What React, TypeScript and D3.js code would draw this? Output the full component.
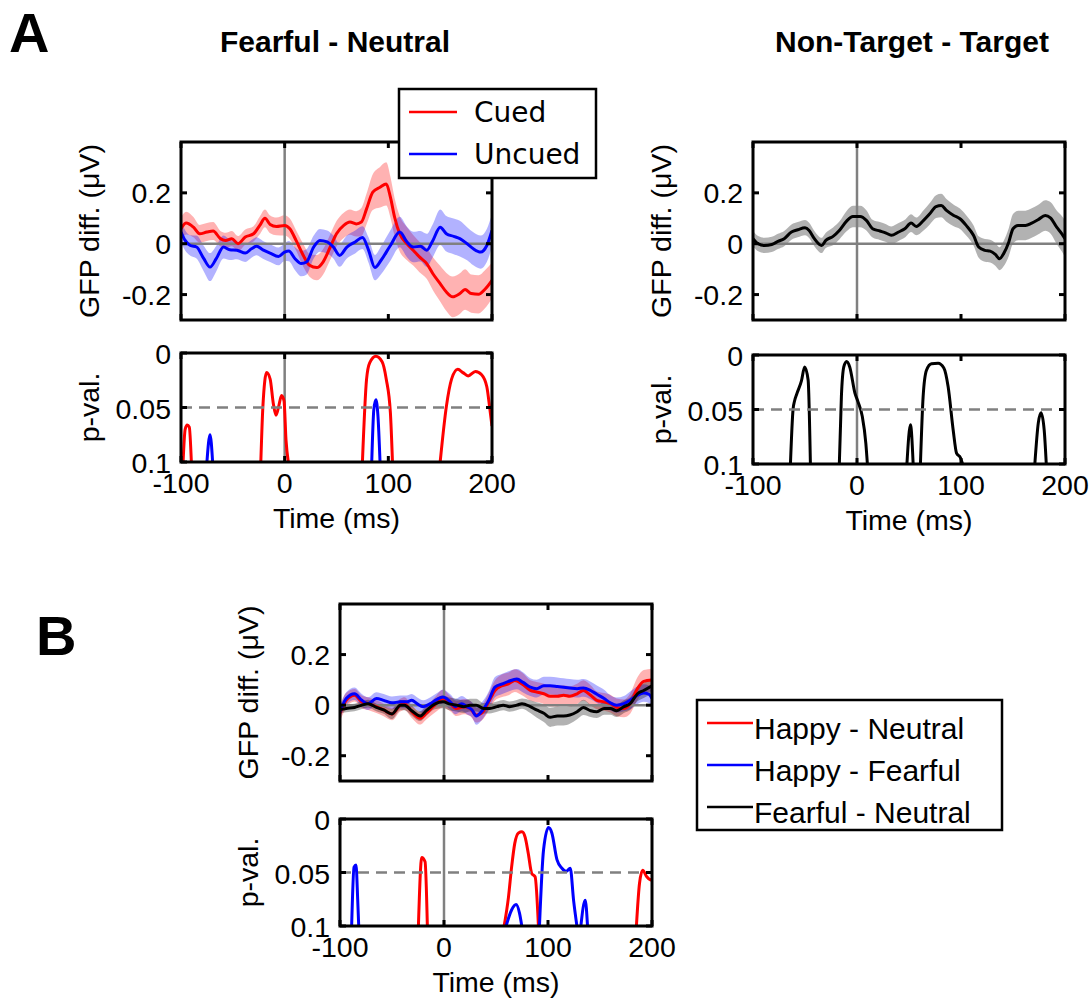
import React from 'react';
import * as d3 from 'd3';

// ---------- data ----------
const timeTicks = [-100, 0, 100, 200];
const timeTickLabels = ['-100', '0', '100', '200'];
const gfpTicks = [-0.2, 0, 0.2];
const gfpTickLabels = ['-0.2', '0', '0.2'];
const pTicks = [0, 0.05, 0.1];
const pTickLabels = ['0', '0.05', '0.1'];

// [time, mean, half-width]
const cuedGfp: number[][] = [
  [-100, 0.059, 0.045], [-95, 0.081, 0.045], [-88, 0.065, 0.04], [-82, 0.039, 0.035], [-75, 0.046, 0.035],
  [-69, 0.05, 0.035], [-62, 0.02, 0.03], [-57, 0.013, 0.03], [-51, 0.02, 0.03], [-45, 0.0, 0.03],
  [-38, 0.026, 0.03], [-30, 0.039, 0.03], [-24, 0.072, 0.035], [-19, 0.1, 0.035], [-14, 0.076, 0.035],
  [-8, 0.068, 0.035], [0, 0.072, 0.04], [5, 0.059, 0.04], [11, 0.013, 0.04], [18, -0.046, 0.045],
  [24, -0.085, 0.045], [31, -0.094, 0.05], [37, -0.072, 0.05], [44, -0.013, 0.05], [50, 0.039, 0.05],
  [57, 0.072, 0.05], [63, 0.085, 0.05], [69, 0.078, 0.05], [74, 0.085, 0.055], [79, 0.137, 0.06],
  [85, 0.203, 0.07], [92, 0.222, 0.08], [98, 0.235, 0.085], [102, 0.183, 0.08], [106, 0.105, 0.075],
  [111, 0.039, 0.07], [118, 0.0, 0.065], [124, -0.026, 0.06], [130, -0.052, 0.06], [137, -0.078, 0.06],
  [143, -0.118, 0.065], [150, -0.157, 0.07], [156, -0.19, 0.075], [162, -0.209, 0.08], [169, -0.196, 0.08],
  [174, -0.18, 0.08], [180, -0.196, 0.075], [187, -0.199, 0.075], [193, -0.18, 0.075], [200, -0.144, 0.07],
];
const uncuedGfp: number[][] = [
  [-100, 0.046, 0.04], [-96, 0.013, 0.04], [-91, -0.007, 0.04], [-85, -0.013, 0.045], [-78, -0.059, 0.05],
  [-72, -0.092, 0.055], [-66, -0.059, 0.05], [-59, -0.013, 0.045], [-53, -0.024, 0.04], [-46, -0.026, 0.035],
  [-38, -0.037, 0.035], [-32, -0.02, 0.035], [-27, -0.01, 0.035], [-21, -0.024, 0.035], [-14, -0.037, 0.035],
  [-6, -0.05, 0.035], [0, -0.033, 0.035], [4, -0.029, 0.04], [10, -0.059, 0.045], [16, -0.078, 0.05],
  [21, -0.072, 0.05], [28, -0.013, 0.045], [34, 0.013, 0.045], [41, 0.007, 0.045], [47, -0.013, 0.045],
  [53, -0.046, 0.045], [60, -0.013, 0.045], [68, 0.007, 0.045], [75, 0.024, 0.045], [81, -0.026, 0.05],
  [87, -0.094, 0.05], [93, -0.065, 0.055], [102, -0.007, 0.06], [111, 0.046, 0.06], [118, 0.007, 0.06],
  [124, -0.013, 0.06], [131, -0.01, 0.06], [137, -0.026, 0.065], [143, 0.013, 0.065], [150, 0.065, 0.07],
  [156, 0.039, 0.07], [163, 0.029, 0.07], [169, 0.02, 0.07], [176, 0.0, 0.065], [182, -0.02, 0.065],
  [189, -0.033, 0.065], [195, -0.007, 0.065], [200, 0.052, 0.065],
];
const nonTargetGfp: number[][] = [
  [-100, 0.02, 0.03], [-95, 0.0, 0.03], [-89, -0.007, 0.03], [-82, -0.003, 0.03], [-76, 0.009, 0.03],
  [-70, 0.02, 0.03], [-63, 0.046, 0.03], [-57, 0.055, 0.03], [-50, 0.063, 0.03], [-46, 0.052, 0.03],
  [-41, 0.02, 0.03], [-34, -0.007, 0.03], [-30, 0.013, 0.03], [-23, 0.029, 0.035], [-17, 0.052, 0.035],
  [-10, 0.089, 0.04], [-4, 0.107, 0.042], [3, 0.107, 0.042], [9, 0.092, 0.04], [15, 0.059, 0.035],
  [22, 0.05, 0.035], [28, 0.042, 0.035], [33, 0.033, 0.035], [40, 0.046, 0.035], [46, 0.059, 0.035],
  [52, 0.081, 0.035], [57, 0.068, 0.035], [64, 0.092, 0.04], [70, 0.118, 0.042], [76, 0.146, 0.045],
  [81, 0.15, 0.046], [86, 0.131, 0.045], [93, 0.111, 0.042], [99, 0.098, 0.04], [105, 0.072, 0.04],
  [112, 0.033, 0.04], [117, -0.013, 0.042], [123, -0.026, 0.045], [128, -0.029, 0.045], [133, -0.042, 0.045],
  [137, -0.059, 0.045], [141, -0.039, 0.05], [146, 0.007, 0.055], [150, 0.059, 0.058], [155, 0.072, 0.058],
  [162, 0.072, 0.058], [168, 0.081, 0.058], [174, 0.094, 0.058], [181, 0.111, 0.06], [186, 0.102, 0.062],
  [192, 0.065, 0.066], [197, 0.039, 0.07], [200, 0.02, 0.072],
];
const happyNeutralGfp: number[][] = [
  [-100, -0.032, 0.03], [-94, 0.019, 0.03], [-86, 0.039, 0.025], [-79, 0.013, 0.025], [-73, 0.006, 0.025],
  [-65, -0.006, 0.025], [-58, -0.019, 0.025], [-50, -0.035, 0.025], [-42, 0.0, 0.025], [-38, 0.006, 0.025],
  [-31, -0.026, 0.025], [-23, -0.052, 0.025], [-17, -0.032, 0.025], [-9, 0.0, 0.03], [-1, 0.026, 0.035],
  [6, 0.006, 0.03], [12, -0.013, 0.03], [19, -0.006, 0.03], [25, -0.013, 0.03], [31, -0.039, 0.03],
  [36, -0.032, 0.03], [43, 0.013, 0.035], [49, 0.058, 0.04], [56, 0.077, 0.045], [62, 0.084, 0.045],
  [68, 0.097, 0.045], [75, 0.084, 0.045], [83, 0.058, 0.04], [89, 0.052, 0.04], [96, 0.045, 0.04],
  [102, 0.035, 0.04], [109, 0.035, 0.04], [115, 0.039, 0.04], [121, 0.035, 0.04], [128, 0.045, 0.04],
  [134, 0.058, 0.04], [141, 0.039, 0.04], [147, 0.019, 0.035], [154, 0.013, 0.035], [160, 0.006, 0.035],
  [166, -0.009, 0.035], [173, -0.013, 0.035], [179, 0.006, 0.04], [186, 0.065, 0.045], [192, 0.094, 0.045],
  [200, 0.099, 0.045],
];
const happyFearfulGfp: number[][] = [
  [-100, -0.026, 0.025], [-94, 0.026, 0.025], [-86, 0.045, 0.025], [-79, 0.019, 0.025], [-73, 0.006, 0.025],
  [-65, 0.026, 0.025], [-58, 0.019, 0.025], [-50, 0.009, 0.025], [-42, 0.013, 0.025], [-36, 0.013, 0.025],
  [-31, 0.019, 0.025], [-26, 0.006, 0.025], [-20, -0.006, 0.025], [-13, 0.006, 0.025], [-7, 0.022, 0.025],
  [-1, 0.032, 0.03], [6, 0.013, 0.03], [11, -0.006, 0.03], [17, 0.006, 0.03], [22, -0.006, 0.03],
  [27, -0.019, 0.03], [31, -0.043, 0.035], [36, -0.026, 0.035], [43, 0.019, 0.035], [49, 0.071, 0.04],
  [56, 0.084, 0.04], [62, 0.094, 0.04], [70, 0.103, 0.04], [76, 0.09, 0.04], [83, 0.071, 0.035],
  [89, 0.065, 0.035], [96, 0.077, 0.035], [102, 0.077, 0.035], [109, 0.074, 0.035], [115, 0.071, 0.035],
  [121, 0.068, 0.035], [128, 0.065, 0.035], [134, 0.068, 0.035], [141, 0.058, 0.035], [147, 0.043, 0.035],
  [154, 0.026, 0.035], [160, 0.009, 0.03], [166, 0.0, 0.03], [173, 0.006, 0.03], [179, 0.019, 0.035],
  [186, 0.039, 0.035], [192, 0.048, 0.035], [197, 0.043, 0.035], [200, 0.026, 0.035],
];
const fearfulNeutralGfp: number[][] = [
  [-100, -0.017, 0.015], [-94, -0.013, 0.015], [-86, -0.009, 0.015], [-79, 0.0, 0.015], [-73, 0.006, 0.015],
  [-65, -0.009, 0.015], [-58, -0.019, 0.015], [-50, -0.035, 0.02], [-42, 0.0, 0.02], [-38, 0.0, 0.02],
  [-31, -0.022, 0.02], [-23, -0.043, 0.02], [-17, -0.022, 0.02], [-9, 0.004, 0.02], [-1, 0.013, 0.025],
  [6, 0.004, 0.025], [12, 0.0, 0.025], [19, -0.006, 0.025], [25, 0.0, 0.025], [31, 0.0, 0.025],
  [38, -0.013, 0.02], [44, -0.013, 0.02], [51, -0.006, 0.02], [57, 0.0, 0.02], [63, -0.006, 0.02],
  [70, 0.0, 0.02], [75, 0.006, 0.02], [83, -0.006, 0.025], [89, -0.019, 0.03], [96, -0.032, 0.035],
  [102, -0.048, 0.038], [109, -0.043, 0.038], [115, -0.043, 0.038], [121, -0.039, 0.035], [128, -0.026, 0.03],
  [134, -0.009, 0.03], [141, -0.022, 0.025], [147, -0.026, 0.025], [154, -0.013, 0.025], [160, -0.013, 0.025],
  [166, -0.022, 0.025], [173, -0.006, 0.025], [179, 0.006, 0.025], [186, 0.045, 0.03], [192, 0.058, 0.03],
  [200, 0.077, 0.03],
];

// [time, p] ; null p = gap
const cuedP: (number | null)[][] = [
  [-98, 0.1], [-96, 0.07], [-94, 0.066], [-92, 0.068], [-90, 0.1], [-60, null],
  [-23, 0.1], [-21, 0.049], [-17.4, 0.018], [-14, 0.024], [-11, 0.046], [-8.4, 0.057], [-6, 0.05], [-3, 0.039],
  [-0.6, 0.044], [1.3, 0.08], [3.5, 0.1], [40, null],
  [75, 0.1], [79, 0.024], [82, 0.009], [88, 0.003], [94, 0.008], [98, 0.024], [102, 0.055], [104, 0.1], [130, null],
  [150, 0.1], [156, 0.049], [161, 0.024], [167, 0.015], [172, 0.018], [177, 0.021], [184, 0.017], [190, 0.02],
  [195, 0.031], [198, 0.052], [200, 0.067],
];
const uncuedP: (number | null)[][] = [
  [-75, 0.1], [-72, 0.075], [-69.5, 0.1], [0, null],
  [84, 0.1], [86, 0.052], [88, 0.043], [90, 0.058], [92, 0.1],
];
const nonTargetP: (number | null)[][] = [
  [-64, 0.1], [-61.5, 0.05], [-60, 0.042], [-58, 0.036], [-53.5, 0.024], [-50.3, 0.011], [-47, 0.023], [-44.8, 0.1], [-30, null],
  [-17, 0.1], [-15, 0.038], [-12.7, 0.011], [-10, 0.006], [-7, 0.011], [-2, 0.035], [1, 0.043], [5, 0.056], [8.5, 0.081], [10, 0.1], [30, null],
  [48, 0.1], [51.4, 0.064], [54, 0.1], [58, null],
  [61, 0.1], [63.6, 0.038], [66.8, 0.014], [71.6, 0.008], [78, 0.0076], [83.5, 0.012], [87.6, 0.029], [92.5, 0.069],
  [95.7, 0.09], [99.6, 0.0945], [101.5, 0.1], [140, null],
  [171, 0.1], [174.3, 0.0625], [177, 0.053], [180, 0.069], [182, 0.1],
];
const happyNeutralP: (number | null)[][] = [
  [-24.6, 0.1], [-21.4, 0.036], [-18.2, 0.04], [-16, 0.1], [20, null],
  [57.8, 0.1], [62, 0.073], [65, 0.045], [68, 0.023], [71.6, 0.013], [75, 0.012], [78, 0.017], [81, 0.032],
  [84.4, 0.051], [87.6, 0.054], [90.8, 0.1], [150, null],
  [185, 0.1], [188, 0.06], [191, 0.048], [195, 0.054], [199, 0.057], [200, 0.056],
];
const happyFearfulP: (number | null)[][] = [
  [-88.8, 0.1], [-86.5, 0.045], [-84.6, 0.043], [-83, 0.075], [-82, 0.1], [0, null],
  [59.7, 0.1], [65, 0.085], [69.3, 0.08], [72.6, 0.088], [74.8, 0.1], [80, null],
  [91.8, 0.1], [95.7, 0.029], [100.5, 0.008], [103.7, 0.013], [108.6, 0.038], [113.4, 0.046], [117.6, 0.049],
  [121.4, 0.046], [124.6, 0.076], [127.8, 0.1], [130, null],
  [131.6, 0.1], [135.8, 0.076], [138, 0.1],
];

// ---------- styling ----------
const SANS = "'Liberation Sans', Arial, Helvetica, sans-serif";
const DEJAVU = "'DejaVu Sans', Verdana, sans-serif";
const RED = '#ff0000';
const BLUE = '#0000ff';
const BLACK = '#000000';
const GRAY = '#808080';
const TICK_FS = 28.5;

type Box = { x0: number; x1: number; y0: number; y1: number };

function AxisFrame({ box, xs, ys, yTicks }: { box: Box; xs: any; ys: any; yTicks: number[] }) {
  const t = 6;
  return (
    <g>
      {timeTicks.map((v) => (
        <g key={'x' + v}>
          <line x1={xs(v)} x2={xs(v)} y1={box.y1} y2={box.y1 - t} stroke="#000" strokeWidth={3} />
          <line x1={xs(v)} x2={xs(v)} y1={box.y0} y2={box.y0 + t} stroke="#000" strokeWidth={3} />
        </g>
      ))}
      {yTicks.map((v) => (
        <g key={'y' + v}>
          <line x1={box.x0} x2={box.x0 + t} y1={ys(v)} y2={ys(v)} stroke="#000" strokeWidth={3} />
          <line x1={box.x1} x2={box.x1 - t} y1={ys(v)} y2={ys(v)} stroke="#000" strokeWidth={3} />
        </g>
      ))}
      <rect x={box.x0} y={box.y0} width={box.x1 - box.x0} height={box.y1 - box.y0} fill="none" stroke="#000" strokeWidth={3} />
    </g>
  );
}

function GfpPanel({ box, series, id, labelX }: { box: Box; series: { data: number[][]; color: string }[]; id: string; labelX: number }) {
  const xs = d3.scaleLinear().domain([-100, 200]).range([box.x0, box.x1]);
  const ys = d3.scaleLinear().domain([-0.3, 0.4]).range([box.y1, box.y0]);
  const area = d3
    .area<number[]>()
    .x((d) => xs(d[0]))
    .y0((d) => ys(d[1] - d[2]))
    .y1((d) => ys(d[1] + d[2]))
    .curve(d3.curveMonotoneX);
  const line = d3
    .line<number[]>()
    .x((d) => xs(d[0]))
    .y((d) => ys(d[1]))
    .curve(d3.curveMonotoneX);
  return (
    <g>
      <defs>
        <clipPath id={id}>
          <rect x={box.x0} y={box.y0} width={box.x1 - box.x0} height={box.y1 - box.y0} />
        </clipPath>
      </defs>
      <g clipPath={`url(#${id})`}>
        {series.map((s, i) => (
          <path key={'a' + i} d={area(s.data) || ''} fill={s.color} fillOpacity={0.3} stroke="none" />
        ))}
        <line x1={xs(0)} x2={xs(0)} y1={box.y0} y2={box.y1} stroke={GRAY} strokeWidth={2.5} />
        <line x1={box.x0} x2={box.x1} y1={ys(0)} y2={ys(0)} stroke={GRAY} strokeWidth={2.5} />
        {series.map((s, i) => (
          <path key={'l' + i} d={line(s.data) || ''} fill="none" stroke={s.color} strokeWidth={3} strokeLinejoin="round" />
        ))}
      </g>
      <AxisFrame box={box} xs={xs} ys={ys} yTicks={gfpTicks} />
      {gfpTicks.map((v, i) => (
        <text key={v} x={box.x0 - 10} y={ys(v) + 10} textAnchor="end" fontFamily={SANS} fontSize={TICK_FS}>
          {gfpTickLabels[i]}
        </text>
      ))}
      <text
        transform={`translate(${labelX},${(box.y0 + box.y1) / 2}) rotate(-90)`}
        textAnchor="middle"
        fontFamily={SANS}
        fontSize={TICK_FS}
      >
        GFP diff. (μV)
      </text>
    </g>
  );
}

function PPanel({ box, series, id, labelX }: { box: Box; series: { data: (number | null)[][]; color: string }[]; id: string; labelX: number }) {
  const xs = d3.scaleLinear().domain([-100, 200]).range([box.x0, box.x1]);
  const ys = d3.scaleLinear().domain([0, 0.1]).range([box.y0, box.y1]);
  const line = d3
    .line<(number | null)[]>()
    .defined((d) => d[1] !== null)
    .x((d) => xs(d[0] as number))
    .y((d) => ys(d[1] as number))
    .curve(d3.curveMonotoneX);
  return (
    <g>
      <defs>
        <clipPath id={id}>
          <rect x={box.x0} y={box.y0} width={box.x1 - box.x0} height={box.y1 - box.y0} />
        </clipPath>
      </defs>
      <g clipPath={`url(#${id})`}>
        <line x1={xs(0)} x2={xs(0)} y1={box.y0} y2={box.y1} stroke={GRAY} strokeWidth={2.5} />
        {series.map((s, i) => (
          <path key={'l' + i} d={line(s.data) || ''} fill="none" stroke={s.color} strokeWidth={3} strokeLinejoin="round" />
        ))}
        <line x1={box.x0} x2={box.x1} y1={ys(0.05)} y2={ys(0.05)} stroke={GRAY} strokeWidth={2.5} strokeDasharray="11 7" />
      </g>
      <AxisFrame box={box} xs={xs} ys={ys} yTicks={pTicks} />
      {pTicks.map((v, i) => (
        <text key={v} x={box.x0 - 10} y={ys(v) + 11} textAnchor="end" fontFamily={SANS} fontSize={TICK_FS}>
          {pTickLabels[i]}
        </text>
      ))}
      {timeTicks.map((v, i) => (
        <text key={'tx' + v} x={xs(v)} y={box.y1 + 31} textAnchor="middle" fontFamily={SANS} fontSize={TICK_FS}>
          {timeTickLabels[i]}
        </text>
      ))}
      <text x={(box.x0 + box.x1) / 2} y={box.y1 + 66} textAnchor="middle" fontFamily={SANS} fontSize={TICK_FS}>
        Time (ms)
      </text>
      <text
        transform={`translate(${labelX},${(box.y0 + box.y1) / 2}) rotate(-90)`}
        textAnchor="middle"
        fontFamily={SANS}
        fontSize={TICK_FS}
      >
        p-val.
      </text>
    </g>
  );
}

export default function App() {
  const aLeftG: Box = { x0: 181, x1: 492, y0: 142, y1: 320 };
  const aLeftP: Box = { x0: 181, x1: 492, y0: 353, y1: 462 };
  const aRightG: Box = { x0: 753, x1: 1065, y0: 142, y1: 320 };
  const aRightP: Box = { x0: 753, x1: 1065, y0: 355, y1: 464 };
  const bG: Box = { x0: 340, x1: 652, y0: 604, y1: 781 };
  const bP: Box = { x0: 340, x1: 652, y0: 819, y1: 926 };

  const legendB = [
    { label: 'Happy - Neutral', color: RED },
    { label: 'Happy - Fearful', color: BLUE },
    { label: 'Fearful - Neutral', color: BLACK },
  ];

  return (
    <div style={{ position: 'absolute', left: 0, top: 0 }}>
      <svg width={1092} height={998} style={{ display: 'block', background: '#fff' }}>
        <text x={9} y={52} fontFamily={SANS} fontWeight="bold" fontSize={56}>A</text>
        <text x={36} y={655} fontFamily={SANS} fontWeight="bold" fontSize={56}>B</text>
        <text x={335} y={52} textAnchor="middle" fontFamily={SANS} fontWeight="bold" fontSize={30}>Fearful - Neutral</text>
        <text x={912} y={52} textAnchor="middle" fontFamily={SANS} fontWeight="bold" fontSize={30}>Non-Target - Target</text>

        <GfpPanel
          id="c1"
          box={aLeftG}
          labelX={99}
          series={[
            { data: cuedGfp, color: RED },
            { data: uncuedGfp, color: BLUE },
          ]}
        />
        <PPanel
          id="c2"
          box={aLeftP}
          labelX={99}
          series={[
            { data: cuedP, color: RED },
            { data: uncuedP, color: BLUE },
          ]}
        />
        <GfpPanel id="c3" box={aRightG} labelX={671} series={[{ data: nonTargetGfp, color: BLACK }]} />
        <PPanel id="c4" box={aRightP} labelX={671} series={[{ data: nonTargetP, color: BLACK }]} />
        <GfpPanel
          id="c5"
          box={bG}
          labelX={258}
          series={[
            { data: happyNeutralGfp, color: RED },
            { data: happyFearfulGfp, color: BLUE },
            { data: fearfulNeutralGfp, color: BLACK },
          ]}
        />
        <PPanel
          id="c6"
          box={bP}
          labelX={258}
          series={[
            { data: happyNeutralP, color: RED },
            { data: happyFearfulP, color: BLUE },
          ]}
        />

        {/* Legend A */}
        <g>
          <rect x={399} y={89} width={197} height={89} fill="#fff" stroke="#000" strokeWidth={2.5} />
          <line x1={409} x2={457} y1={112} y2={112} stroke={RED} strokeWidth={2.5} />
          <text x={474} y={122} fontFamily={DEJAVU} fontSize={28}>Cued</text>
          <line x1={409} x2={457} y1={154} y2={154} stroke={BLUE} strokeWidth={2.5} />
          <text x={474} y={164} fontFamily={DEJAVU} fontSize={28}>Uncued</text>
        </g>

        {/* Legend B */}
        <g>
          <rect x={697} y={700} width={305} height={130} fill="#fff" stroke="#000" strokeWidth={2.5} />
          {legendB.map((d, i) => (
            <g key={d.label}>
              <line x1={707} x2={753} y1={723 + i * 42} y2={723 + i * 42} stroke={d.color} strokeWidth={2.5} />
              <text x={754} y={739 + i * 42} fontFamily={SANS} fontSize={30}>{d.label}</text>
            </g>
          ))}
        </g>
      </svg>
    </div>
  );
}
